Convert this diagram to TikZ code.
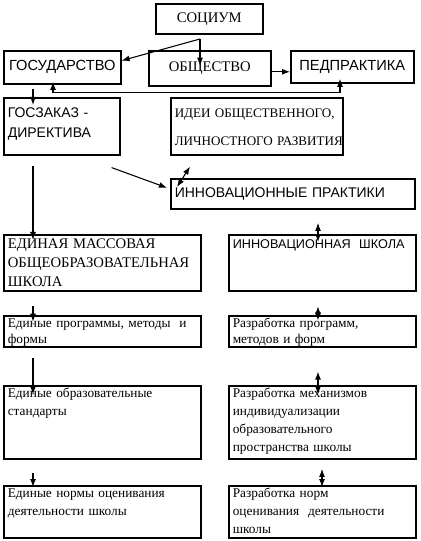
\documentclass[tikz,border=0pt]{standalone}
\usepackage{fontspec}
\setmainfont{Liberation Serif}
\newfontfamily\arialf{Liberation Sans}
\usepackage{tikz}
\usetikzlibrary{arrows.meta}

\begin{document}
\begin{tikzpicture}[x=0.75pt, y=-0.75pt, >={Latex[length=6pt,width=4.5pt]},
    box/.style={draw, line width=1.2pt, anchor=north west, inner xsep=3pt, inner ysep=2pt,
        align=left, font=\fontsize{10pt}{13.5pt}\selectfont},
    sansbox/.style={box, font=\arialf\fontsize{10.5pt}{14.5pt}\selectfont},
    lcol/.style={box, text width=141.75pt, text height=7pt},
    rcol/.style={box, text width=134.25pt, text height=7pt},
    conn/.style={line width=0.8pt}]
    \useasboundingbox (0,0) rectangle (420,541);

    % 1. Верхний уровень
    \node[box, align=center, font=\fontsize{11pt}{13pt}\selectfont, minimum width=80.25pt, minimum height=22.5pt] (soc) at (155,3) {СОЦИУМ};
    \node[sansbox, align=center, font=\arialf\fontsize{11pt}{13pt}\selectfont, minimum width=87.75pt, minimum height=24.75pt] (gos) at (3,50) {ГОСУДАРСТВО};
    \node[box, align=center, font=\fontsize{11pt}{13pt}\selectfont, minimum width=91.5pt, minimum height=26.25pt] (obs) at (148,50) {ОБЩЕСТВО};
    \node[sansbox, align=center, font=\arialf\fontsize{11pt}{13pt}\selectfont, minimum width=92.25pt, minimum height=24pt] (ped) at (290,50) {ПЕДПРАКТИКА};

    % 2. Средний уровень
    \node[sansbox, text width=81pt, text height=13pt, text depth=25.75pt] (gz) at (3,97) {ГОСЗАКАЗ -\\ДИРЕКТИВА};
    \node[box, font=\fontsize{9.8pt}{13.5pt}\selectfont, text width=123pt, text height=13pt, text depth=25.75pt] (idei) at (170,97) {ИДЕИ ОБЩЕСТВЕННОГО,\\[7.5pt]ЛИЧНОСТНОГО~РАЗВИТИЯ};
    \node[sansbox, text width=177pt, minimum height=22.5pt] (inp) at (170,178) {ИННОВАЦИОННЫЕ ПРАКТИКИ};

    % 3. Левая колонка
    \node[lcol, font=\fontsize{11pt}{14.25pt}\selectfont, text height=8.5pt, text depth=29.5pt] (edm) at (3,234) {ЕДИНАЯ МАССОВАЯ\\ОБЩЕОБРАЗОВАТЕЛЬНАЯ\\ШКОЛА};
    \node[lcol, text depth=12.25pt] (edp) at (3,315) {Единые программы, методы~~и\\[-1.5pt]формы};
    \node[lcol, text depth=43.75pt] (eds) at (3,385) {Единые образовательные\\стандарты};
    \node[lcol, text depth=28pt] (edn) at (3,485) {Единые нормы оценивания\\деятельности школы};

    % 4. Правая колонка
    \node[rcol, font=\arialf\fontsize{9.5pt}{13pt}\selectfont, text height=8pt, text depth=30pt] (ins) at (228,234) {ИННОВАЦИОННАЯ~~ШКОЛА};
    \node[rcol, text depth=12.25pt] (rpr) at (228,315) {Разработка программ,\\[-1.5pt]методов и форм};
    \node[rcol, text depth=43.75pt] (rmeh) at (228,385) {Разработка механизмов\\индивидуализации\\образовательного\\пространства школы};
    \node[rcol, text depth=28pt] (rnorm) at (228,485) {Разработка норм\\оценивания~~деятельности\\школы};

    % 5. Стрелки сверху
    \coordinate (spl) at (200,39);
    \draw[conn, ->, shorten >=2pt] (spl) -- (spl |- obs.center);
    \draw[conn, ->] (spl) -- ([yshift=5pt]gos.east);
    \draw[conn, ->] ([yshift=-2.6pt]obs.east) -- ([yshift=-2.6pt]obs.east -| ped.west);
    \coordinate (gl) at (53,0);
    \coordinate (pl) at (340,0);
    \draw[conn, <->, shorten <=-2pt, shorten >=-3.5pt] (gl |- gos.south) -- ++(0,8) -| (pl |- ped.south);

    % 6. Стрелки к среднему уровню
    \coordinate (gzin) at (33,89);
    \draw[conn, ->, shorten >=-6pt] (gzin) -- (gzin |- gz.north);
    \draw[conn, ->] ([shift={(-9,12)}]gz.south east) -- ([shift={(-3,-6)}]inp.west);
    \draw[conn, <->] ([shift={(7,9)}]inp.north west) -- ([shift={(20,11)}]idei.south west);

    % 7. Стрелки в колонках
    \coordinate (lx) at (33,0);
    \coordinate (rx) at (318,0);
    \draw[conn, ->, shorten <=8pt, shorten >=-4.5pt] (lx |- gz.south) -- (lx |- edm.north);
    \draw[conn, ->, shorten <=11pt, shorten >=-5pt] (lx |- edm.south) -- (lx |- edp.north);
    \draw[conn, ->, shorten <=8pt, shorten >=-7pt] (lx |- edp.south) -- (lx |- eds.north);
    \draw[conn, ->, shorten <=10pt, shorten >=-1.5pt] (lx |- eds.south) -- (lx |- edn.north);

    \draw[conn, <->, shorten <=10pt, shorten >=-6pt] (rx |- inp.south) -- (rx |- ins.north);
    \draw[conn, <->, shorten <=11pt, shorten >=-4pt] (rx |- ins.south) -- (rx |- rpr.north);
    \draw[conn, <->, shorten <=18pt, shorten >=-7pt] (rx |- rpr.south) -- (rx |- rmeh.north);
    \draw[conn, <->, shorten <=7pt, shorten >=-1.5pt] ([xshift=3pt]rx |- rmeh.south) -- ([xshift=3pt]rx |- rnorm.north);

\end{tikzpicture}
\end{document}
